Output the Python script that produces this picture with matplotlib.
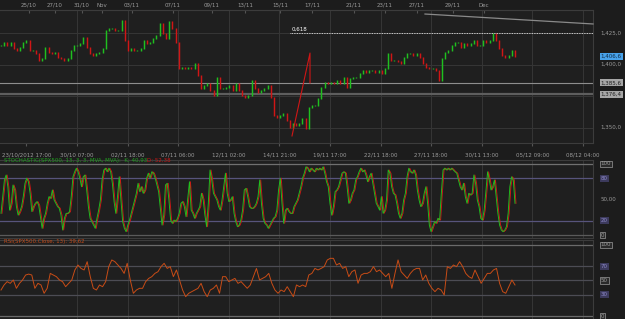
import numpy as np
import matplotlib
matplotlib.use("Agg")
import matplotlib.pyplot as plt

# --- price closes (SPX500) ---
price_close = [
    1415.4, 1418, 1415, 1418, 1412.8, 1411.4, 1414, 1418, 1419.4, 1411.4, 1411.4, 1408.8,
    1403.5, 1404.8, 1414, 1410, 1408.8, 1410, 1406, 1404.8, 1403.5, 1404.8, 1411.4, 1415.4,
    1415.4, 1416.7, 1422, 1414, 1408.8, 1407.4, 1408.8, 1410, 1412.8, 1427.3, 1428.7, 1428.7,
    1427.3, 1427.3, 1435.3, 1419.4, 1411.4, 1412.8, 1411.4, 1411.4, 1412.8, 1419.4, 1416.7,
    1418, 1420.7, 1423.4, 1432.7, 1424.7, 1420.7, 1434,
    1428.7, 1418, 1396.8, 1398, 1396.8, 1398, 1396.8, 1400.8, 1391.5, 1380.9, 1383.5, 1384.9,
    1379.5, 1375.5, 1390.2, 1380.9, 1380.9, 1382.2, 1383.5, 1379.5, 1384.9, 1379.5, 1375.5,
    1374.2, 1375.5, 1387.5, 1380.9, 1378.2, 1379.5, 1380.9, 1383.5, 1374.2, 1359.6, 1358.3,
    1359.6, 1361, 1355.6, 1350.3, 1353, 1351.6, 1353, 1357, 1349, 1366.3, 1367.6, 1367.6,
    1372.9, 1382.2, 1386.2, 1384.9, 1386.2, 1384.9, 1387.5,
    1384.9, 1390.2, 1382.2, 1388.8, 1390.2, 1390.2, 1392.8, 1395.5, 1394.2, 1395.5, 1395.5,
    1394.2, 1395.5, 1392.8, 1396.8, 1408.8, 1403.5, 1403.5, 1402.2, 1400.8, 1406.1, 1408.8,
    1408.8, 1407.4, 1408.8, 1406.1, 1400.8, 1398.1, 1396.8, 1396.8, 1395.5, 1387.5, 1404.8,
    1410.1, 1411.4, 1415.4, 1418, 1418, 1414, 1416.7, 1415.4, 1416.7, 1419.4, 1415.4, 1415.4,
    1419.4, 1418, 1419.4, 1424.7, 1419.4, 1412.8, 1407.4, 1406.1, 1407.4, 1411.4, 1406.6,
]

stoch_k = [
    30.5, 54, 77.5, 84.5, 68, 35, 44.6, 70.4, 63.4, 40, 28, 33, 40, 54, 72.8, 80, 75, 58.7,
    33, 40, 44.6, 47, 42, 25.8, 9.4, 23.5, 30.5, 44.6, 54, 51.6, 63.4, 49.3, 44.6, 40, 37.6,
    28, 7, 23.5, 30.5, 30.5, 33, 54, 82, 89, 94, 89, 80, 68, 82, 84.5, 63.4, 40, 23.5, 18.8,
    14, 9.4, 23.5, 35, 49.3, 77.5, 91.5, 94, 89, 94, 89, 72.8, 47, 30.5, 54, 82, 49.3, 18.8,
    9.4, 4.7, 14, 21, 30.5, 40, 49.3, 58.7, 72.8, 61, 68, 58.7, 63.4, 80, 87, 80, 89, 87, 80,
    70.4, 61, 37.6, 14, 28, 70.4, 72.8, 49.3, 21, 16.4, 21, 18.8, 23.5, 30.5, 44.6, 47, 40,
    25.8, 51.6, 75, 35, 30.5, 23.5, 30.5, 35, 40, 58.7, 49.3, 28, 11.7, 44.6, 91.5, 77.5,
    58.7, 54, 49.3, 40, 35, 49.3, 68, 87, 58.7, 47, 49.3, 54, 30.5, 18.8, 11.7, 14, 21, 35,
    63.4, 65.7, 54, 40, 37.6,
    37.6, 40, 44.6, 54, 77.5, 44.6, 23.5, 16.4, 14, 9.4, 14, 18.8, 23.5, 25.8, 35, 63.4, 80,
    44.6, 16.4, 35, 37.6, 33, 30.5, 30.5, 40, 44.6, 49.3, 58.7, 68, 80, 87, 96, 94, 89, 94,
    91.5, 89, 94, 91.5, 94, 91.5, 96, 87, 75, 68, 44.6, 28, 40, 61, 63.4, 68, 77.5, 87, 89,
    87, 68, 44.6, 49.3, 58.7, 63.4, 77.5, 82, 89, 94, 89, 91.5, 84.5, 75, 82, 87, 72.8, 58.7,
    44.6, 40, 35, 54, 30.5, 35, 49.3, 91.5, 87, 68, 58.7, 56.3, 44.6, 30.5, 23.5, 30.5, 49.3,
    58.7, 82, 94, 89, 87, 91.5, 84.5, 63.4, 49.3, 40, 44.6, 58.7, 68, 44.6, 14, 4.7, 11.7,
    18.8, 16.4, 23.5, 21, 58.7, 91.5, 94, 91.5, 94, 91.5, 94, 91.5, 89, 87, 77.5, 68, 63.4,
    72.8, 54, 44.6, 58.7, 56.3, 58.7, 84.5, 72.8, 49.3, 40, 23.5, 21, 35, 61, 89, 77.5, 63.4,
    68, 77.5, 54, 30.5, 14, 7, 4.7, 7, 11.7, 30.5, 68, 82, 77.5, 44.6,
]

rsi = [
    36.6, 43.7, 48.4, 46, 50.7, 39, 46, 50.7, 57.7, 59, 57.7, 39, 46, 43.7, 32, 39, 60, 57.7,
    55.4, 50.7, 48.4, 41.3, 46, 50.7, 64.8, 71.8, 67, 64.8, 76.5, 55.4, 39, 36.6, 43.7, 41.3,
    48.4, 69.5, 78.9, 76.5, 71.8, 67, 60, 74.2, 50.7, 32, 36.6, 39, 39, 48.4, 53, 55.4, 60,
    62.4, 69.5, 74.2, 67, 69.5, 55.4, 64.8, 50.7, 36.6, 27.2, 32, 34.3, 36.6, 39, 46, 34.3,
    27.2, 36.6, 39, 43.7, 32, 55.4, 55.4, 48.4, 50.7, 53, 46, 48.4, 43.7, 39, 43.7, 55.4, 67,
    50.7, 53, 55.4, 60, 46, 36.6, 32, 36.6, 34.3, 41.3, 34.3, 27.2, 43.7, 41.3, 43.7, 41.3,
    57.7, 60, 67, 64.8, 67,
    69.5, 78.9, 81.2, 81.2, 71.8, 74.2, 67, 69.5, 55.4, 62.4, 64.8, 46, 57.7, 60, 60, 62.4,
    69.5, 62.4, 64.8, 60, 55.4, 60, 39, 60, 78.9, 62.4, 57.7, 53, 60, 64.8, 67, 67, 50.7,
    57.7, 46, 39, 34.3, 39, 36.6, 29.6, 69.5, 67, 71.8, 69.5, 76.5, 69.5, 60, 55.4, 53, 64.8,
    55.4, 46, 53, 60, 60, 64.8, 67, 46, 34.3, 32, 41.3, 50.7, 43.7,
]

# axis labels
top_dates = ["25/10", "27/10", "31/10", "Nov", "03/11", "07/11", "09/11", "13/11",
             "15/11", "17/11", "21/11", "23/11", "27/11", "29/11", "Dec"]
top_pos = [29, 55, 82, 102, 132, 173, 212, 245, 280, 312, 354, 385, 417, 453, 484]
bottom_dates = ["23/10/2012 17:00", "30/10 07:00", "02/11 18:00", "07/11 06:00",
                "12/11 02:00", "14/11 21:00", "19/11 17:00", "22/11 18:00",
                "27/11 18:00", "30/11 13:00", "05/12 09:00", "08/12 04:00"]
price_ticks = [1425, 1400, 1350]
price_tick_labels = ["1,425,0", "1,400,0", "1,350,0"]
support_levels = [1385.6, 1376.4]
last_price = 1406.6
fib_level = 1425.0
fib_x = [292, 310, 310]
fib_p = [1343.4, 1409.3, 1385.5]
trend_x = [425, 593]
trend_p = [1440.3, 1432.4]

W, H = 625, 319
BG = "#1f1f1f"
GRID = "#363636"
TXT = "#9a9a9a"
GREEN = "#1fc01f"
RED = "#d01616"
FS = 4.0
plt.rcParams["font.family"] = "DejaVu Sans"

fig = plt.figure(figsize=(W / 100, H / 100), dpi=100, facecolor="#1c1c1c")


def px_axes(x0, y0, x1, y1):
    return fig.add_axes([x0 / W, 1 - y1 / H, (x1 - x0) / W, (y1 - y0) / H])


ax = px_axes(0, 10, 593, 143)
ax_st = px_axes(0, 160, 593, 238)
ax_rsi = px_axes(0, 240, 593, 319)

grid_x = 26.4 + 50.6 * np.arange(len(bottom_dates))

for a in (ax, ax_st, ax_rsi):
    a.set_facecolor(BG)
    a.set_xlim(0, 593)
    for s in a.spines.values():
        s.set_color("#3c3c3c")
        s.set_linewidth(0.8)
    a.spines["left"].set_visible(False)
    for gx in grid_x[1:]:
        a.axvline(gx, color=GRID, lw=0.7, zorder=0)
    a.set_yticks([])
    a.tick_params(axis="x", length=0, labelbottom=False)

# --- main price panel ---
ax.set_ylim(1337.8, 1443.5)
for p in [1425, 1400, 1375, 1350]:
    ax.axhline(p, color=GRID, lw=0.7, zorder=0)

closes = np.array(price_close)
opens = np.r_[closes[0], closes[:-1]]
xp = np.linspace(1, 515, len(closes))
lo = np.minimum(opens, closes) - 0.4
hi = np.maximum(opens, closes) + 0.4
up = closes >= opens
ax.vlines(xp[up], lo[up], hi[up], color=GREEN, lw=1.05, zorder=3)
ax.vlines(xp[~up], lo[~up], hi[~up], color=RED, lw=1.05, zorder=3)

ax.axhline(support_levels[0], color="#8e8e8e", lw=0.8, zorder=2)
ax.axhline(support_levels[1], color="#5e5e5e", lw=1.6, zorder=2)
ax.plot([290, 593], [fib_level, fib_level], color="white", lw=0.6, ls=(0, (1, 1)), zorder=4)
ax.text(292, fib_level + 1.2, "0,618", color="white", fontsize=FS, va="bottom", ha="left")
ax.plot(fib_x, fib_p, color=RED, lw=0.8, zorder=4)
ax.plot(trend_x, trend_p, color="#8a8a8a", lw=0.9, zorder=4, clip_on=False)

ytr = ax.get_yaxis_transform()
for p, lab in zip(price_ticks, price_tick_labels):
    ax.text(1.013, p, lab, transform=ytr, color=TXT, fontsize=FS, va="center", ha="left",
            clip_on=False)
ax.text(1.013, last_price, "1,406,6", transform=ytr, color="#0e2a44", fontsize=FS,
        va="center", ha="left", clip_on=False,
        bbox=dict(boxstyle="square,pad=0.2", fc="#48a2ea", ec="none"))
for lv in support_levels:
    ax.text(1.013, lv, f"{lv:,.1f}".replace(".", ","), transform=ytr, color="#202020",
            fontsize=FS, va="center", ha="left", clip_on=False,
            bbox=dict(boxstyle="square,pad=0.2", fc="#a6a6a6", ec="none"))

ax.set_xticks(grid_x)
ax.set_xticklabels(bottom_dates)
ax.tick_params(axis="x", length=2, color="#555555", labelbottom=True, labelsize=FS,
               labelcolor=TXT, pad=5)

top = ax.secondary_xaxis("top")
top.set_xticks(top_pos)
top.set_xticklabels(top_dates)
top.tick_params(length=2, direction="in", color="#555555", labelsize=FS, labelcolor=TXT, pad=1.5)
top.spines["top"].set_color("#3c3c3c")

# --- stochastic panel ---
ax_st.set_ylim(-4.2, 105.6)
xs = np.linspace(1, 515, len(stoch_k))
ax_st.axhline(100, color="#707070", lw=0.9)
ax_st.axhline(0, color="#5a5a5a", lw=0.9)
for lv in (80, 20):
    ax_st.axhline(lv, color="#57547c", lw=0.9)
ax_st.plot(xs + 1.0, stoch_k, color=RED, lw=0.65)
ax_st.plot(xs, stoch_k, color=GREEN, lw=0.65)
ax_st.text(4, 101.8, "STOCHASTIC(SPX500, 13, 3, 3, MVA, MVA):  K: 40,93", color="#1fa01f",
           fontsize=FS, va="bottom", ha="left")
ax_st.text(147, 101.8, "D: 52,38", color="#c81818", fontsize=FS, va="bottom", ha="left")
str_ = ax_st.get_yaxis_transform()
purple_box = dict(boxstyle="square,pad=0.2", fc="#3c3a5c", ec="none")
gray_box = dict(boxstyle="square,pad=0.15", fc="#2a2a2a", ec="#9a9a9a", lw=0.5)
for lv, lab, box in [(100, "100", gray_box), (80, "80", purple_box), (50, "50,00", None),
                     (20, "20", purple_box), (0, "0", gray_box)]:
    col = "#8c88c8" if box is purple_box else TXT
    ax_st.text(1.013, lv, lab, transform=str_, color=col, fontsize=FS, va="center",
               ha="left", clip_on=False, bbox=box)

# --- RSI panel ---
ax_rsi.set_ylim(-4.2, 107)
xr = np.linspace(1, 515, len(rsi))
ax_rsi.axhline(100, color="#6a6a6a", lw=0.9)
ax_rsi.axhline(0, color="#6a6a6a", lw=0.9)
for lv in (70, 50, 30):
    ax_rsi.axhline(lv, color="#4c4c54", lw=0.9)
ax_rsi.plot(xr, rsi, color="#c84c16", lw=0.7)
ax_rsi.text(4, 101.2, "RSI(SPX500.Close, 13): 39,62", color="#c04a1a", fontsize=FS,
            va="bottom", ha="left")
rtr = ax_rsi.get_yaxis_transform()
for lv, lab, box in [(100, "100", gray_box), (70, "70", purple_box), (50, "50", gray_box),
                     (30, "30", purple_box), (0, "0", gray_box)]:
    col = "#8c88c8" if box is purple_box else TXT
    ax_rsi.text(1.013, lv, lab, transform=rtr, color=col, fontsize=FS, va="center",
                ha="left", clip_on=False, bbox=box)

fig.savefig("out.png", dpi=100, facecolor=fig.get_facecolor())
